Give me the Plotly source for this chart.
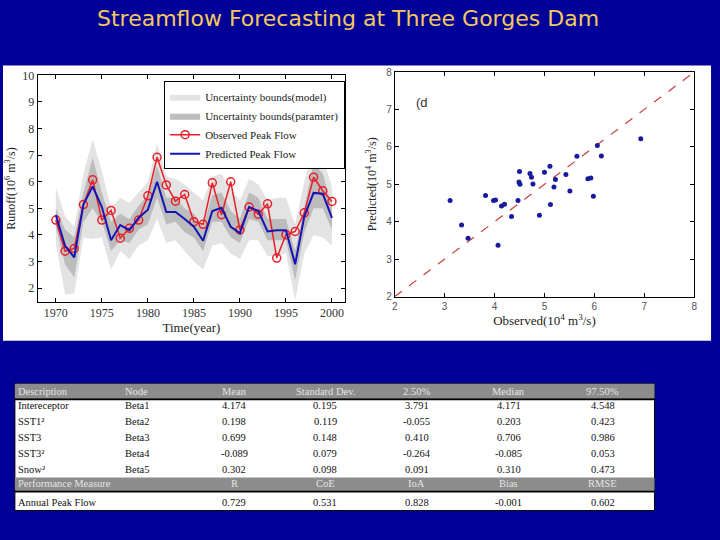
import plotly.graph_objects as go

# ---------------- data ----------------
years = list(range(1970, 2001))
observed = [4.56, 3.39, 3.49, 5.14, 6.07, 4.56, 4.92, 3.88, 4.25, 4.56,
            5.47, 6.92, 5.88, 5.27, 5.52, 4.50, 4.40, 5.96, 4.76, 6.00,
            4.19, 5.05, 4.78, 5.17, 3.13, 4.01, 4.13, 4.83, 6.17, 5.66, 5.26]
predicted = [4.75, 3.59, 3.16, 5.15, 5.82, 5.05, 3.80, 4.37, 4.18, 4.65,
             4.95, 6.00, 4.86, 4.86, 4.60, 4.31, 3.78, 4.90, 5.02, 4.31,
             4.07, 5.05, 4.90, 4.13, 4.18, 4.18, 2.90, 4.70, 5.58, 5.55, 4.64]
model_lower = [3.7, 1.75, 1.8, 3.9, 3.85, 3.9, 2.7, 3.4, 3.1, 3.6,
               3.8, 4.6, 3.7, 3.8, 3.4, 3.0, 2.7, 3.6, 3.7, 3.3,
               3.1, 3.8, 3.8, 3.2, 3.2, 3.3, 1.55, 3.3, 4.0, 3.9, 3.6]
model_upper = [5.8, 4.7, 4.3, 6.3, 7.6, 6.4, 5.0, 5.4, 5.2, 5.6,
               6.0, 7.45, 6.2, 6.1, 5.9, 5.6, 5.3, 6.2, 6.3, 5.7,
               5.3, 6.1, 5.9, 5.3, 5.4, 5.4, 4.4, 6.0, 7.35, 6.9, 5.8]
param_lower = [4.3, 2.9, 2.4, 4.5, 5.0, 4.5, 3.4, 3.8, 3.7, 4.2,
               4.4, 5.4, 4.4, 4.5, 4.1, 3.9, 3.4, 4.5, 4.5, 3.9,
               3.7, 4.6, 4.5, 3.8, 3.8, 3.8, 2.3, 4.1, 5.0, 5.0, 4.2]
param_upper = [5.0, 4.2, 3.9, 5.6, 6.9, 5.6, 4.5, 4.8, 4.6, 5.1,
               5.5, 6.6, 5.4, 5.4, 5.0, 4.8, 4.3, 5.5, 5.6, 4.9,
               4.6, 5.6, 5.4, 4.6, 4.6, 4.6, 3.4, 5.1, 6.7, 6.3, 5.1]

scatter_obs = [3.11, 3.34, 3.47, 3.82, 3.98, 4.02, 4.07, 4.14, 4.20, 4.34,
               4.47, 4.50, 4.49, 4.51, 4.71, 4.74, 4.77, 4.90, 5.00, 5.11,
               5.12, 5.19, 5.22, 5.43, 5.51, 5.65, 5.87, 5.93, 5.98, 6.06,
               6.14, 6.93]
scatter_pred = [4.57, 3.91, 3.56, 4.70, 4.57, 4.58, 3.37, 4.42, 4.47, 4.14,
                4.57, 5.34, 5.06, 5.00, 5.29, 5.19, 5.01, 4.17, 5.32, 5.48,
                4.46, 4.93, 5.13, 5.26, 4.82, 5.75, 5.15, 5.17, 4.68, 6.04,
                5.76, 6.22]
one_to_one = [2, 8]

year_ticks = [1970, 1975, 1980, 1985, 1990, 1995, 2000]

descriptions = ["Intereceptor", "SST1²", "SST3", "SST3²", "Snow²"]
nodes = ["Beta1", "Beta2", "Beta3", "Beta4", "Beta5"]
mean = ["4.174", "0.198", "0.699", "-0.089", "0.302"]
std_dev = ["0.195", "0.119", "0.148", "0.079", "0.098"]
p025 = ["3.791", "-0.055", "0.410", "-0.264", "0.091"]
median = ["4.171", "0.203", "0.706", "-0.085", "0.310"]
p975 = ["4.548", "0.423", "0.986", "0.053", "0.473"]
table_headers = ["Description", "Node", "Mean", "Standard Dev.", "2.50%", "Median", "97.50%"]
perf_title = "Performance Measure"
perf_row = "Annual Peak Flow"
perf_labels = ["R", "CoE", "IoA", "Bias", "RMSE"]
perf_values = ["0.729", "0.531", "0.828", "-0.001", "0.602"]

# ---------------- helpers ----------------
W, H = 720, 540
def px(x):
    return x / W
def py(y):
    return 1 - y / H

BG = "#000099"
LIGHT = "#e3e3e3"
DARK = "#bcbcbc"
RED = "#e8202a"
BLUE = "#1414b4"
GRAYROW = "#8c8c8c"
HEADTXT = "#e4e4e4"
SERIF = "Liberation Serif, Times New Roman, serif"
SANS = "Liberation Sans, Arial, sans-serif"

fig = go.Figure()

# uncertainty bands
fig.add_trace(go.Scatter(
    x=years + years[::-1], y=model_upper + model_lower[::-1],
    fill="toself", fillcolor=LIGHT, line=dict(width=0), mode="lines",
    name="Uncertainty bounds(model)", hoverinfo="skip", xaxis="x", yaxis="y"))
fig.add_trace(go.Scatter(
    x=years + years[::-1], y=param_upper + param_lower[::-1],
    fill="toself", fillcolor=DARK, line=dict(width=0), mode="lines",
    name="Uncertainty bounds(paramter)", hoverinfo="skip", xaxis="x", yaxis="y"))
fig.add_trace(go.Scatter(
    x=years, y=observed, mode="lines+markers", name="Observed Peak Flow",
    line=dict(color=RED, width=1.5),
    marker=dict(symbol="circle-open", size=8, color=RED, line=dict(width=1.5)),
    xaxis="x", yaxis="y"))
fig.add_trace(go.Scatter(
    x=years, y=predicted, mode="lines", name="Predicted Peak Flow",
    line=dict(color=BLUE, width=2), xaxis="x", yaxis="y"))

# scatter plot
fig.add_trace(go.Scatter(
    x=one_to_one, y=one_to_one, mode="lines", showlegend=False,
    line=dict(color="#c8403a", width=1.2, dash="dash"), xaxis="x2", yaxis="y2"))
fig.add_trace(go.Scatter(
    x=scatter_obs, y=scatter_pred, mode="markers", showlegend=False,
    marker=dict(color="#1a1a9c", size=5), xaxis="x2", yaxis="y2"))

# ---------------- table (layout geometry in pixels) ----------------
T_LEFT, T_RIGHT, T_TOP, T_BOTTOM = 12, 657, 386, 516
HEAD_BOTTOM = 401
ROW_Y0, ROW_STEP = 408.5, 16.4            # centres of the five parameter rows
PERF_TOP, PERF_BOTTOM = 482, 495.5
LAST_ROW_Y = 507.5
col_x = [13, 121, 233, 325, 417, 510, 605]
col_anchor = ["left", "left", "center", "center", "center", "center", "center"]

shapes = [
    dict(type="rect", xref="paper", yref="paper", x0=px(0), x1=px(714), y0=py(342), y1=py(60),
         fillcolor="white", line=dict(width=0), layer="below"),
    dict(type="rect", xref="paper", yref="paper", x0=px(T_LEFT), x1=px(T_RIGHT),
         y0=py(T_BOTTOM), y1=py(T_TOP), fillcolor="white", line=dict(color="black", width=1),
         layer="below"),
    dict(type="rect", xref="paper", yref="paper", x0=px(T_LEFT), x1=px(T_RIGHT),
         y0=py(HEAD_BOTTOM), y1=py(T_TOP), fillcolor=GRAYROW, line=dict(width=0), layer="below"),
    dict(type="rect", xref="paper", yref="paper", x0=px(T_LEFT), x1=px(T_RIGHT),
         y0=py(PERF_BOTTOM), y1=py(PERF_TOP), fillcolor=GRAYROW, line=dict(width=0), layer="below"),
    dict(type="line", xref="paper", yref="paper", x0=px(T_LEFT), x1=px(T_RIGHT),
         y0=py(HEAD_BOTTOM + 1), y1=py(HEAD_BOTTOM + 1), line=dict(color="black", width=2)),
    dict(type="line", xref="paper", yref="paper", x0=px(T_LEFT), x1=px(T_RIGHT),
         y0=py(PERF_BOTTOM + 1), y1=py(PERF_BOTTOM + 1), line=dict(color="black", width=2)),
]

annotations = [
    dict(text="Streamflow Forecasting at Three Gorges Dam", xref="paper", yref="paper",
         x=px(348), y=py(12), xanchor="center", yanchor="middle", showarrow=False,
         font=dict(family="DejaVu Sans, sans-serif", size=22, color="#f5c85c")),
    dict(text="(d", xref="x2", yref="y2", x=2.38, y=7.2, xanchor="left", yanchor="middle",
         showarrow=False, font=dict(family=SANS, size=13, color="#333333")),
]

def cell(text, j, y, color, size=10):
    annotations.append(dict(text=text, xref="paper", yref="paper", x=px(col_x[j]), y=py(y),
                            xanchor=col_anchor[j], yanchor="middle", showarrow=False,
                            font=dict(family=SERIF, size=size, color=color)))

for j, h in enumerate(table_headers):
    cell(h, j, (T_TOP + HEAD_BOTTOM) / 2, HEADTXT, 10.5)

param_columns = [descriptions, nodes, mean, std_dev, p025, median, p975]
for i in range(len(descriptions)):
    for j, col in enumerate(param_columns):
        cell(col[i], j, ROW_Y0 + i * ROW_STEP, "#111111", 10.5)

cell(perf_title, 0, (PERF_TOP + PERF_BOTTOM) / 2, HEADTXT, 10.5)
cell(perf_row, 0, LAST_ROW_Y, "#111111", 10.5)
for k in range(len(perf_labels)):
    cell(perf_labels[k], k + 2, (PERF_TOP + PERF_BOTTOM) / 2, HEADTXT, 10.5)
    cell(perf_values[k], k + 2, LAST_ROW_Y, "#111111", 10.5)

axis_common = dict(showline=True, linecolor="black", linewidth=1, mirror="allticks",
                   ticks="inside", ticklen=4, tickcolor="black", showgrid=False, zeroline=False)

fig.update_layout(
    width=W, height=H, autosize=False,
    margin=dict(l=0, r=0, t=0, b=0),
    paper_bgcolor=BG, plot_bgcolor="white",
    shapes=shapes, annotations=annotations,
    xaxis=dict(domain=[px(35), px(345)], range=[1968.03, 2001.43], tickvals=year_ticks,
               tickfont=dict(family=SERIF, size=12, color="#333333"),
               title=dict(text="Time(year)", font=dict(family=SERIF, size=13, color="#222222"), standoff=2),
               anchor="y", **axis_common),
    yaxis=dict(domain=[py(302), py(70)], range=[1.49, 10], dtick=1,
               tickfont=dict(family=SERIF, size=12, color="#333333"),
               title=dict(text="Runoff(10<sup>6</sup> m<sup>3</sup>/s)",
                          font=dict(family=SERIF, size=12, color="#222222"), standoff=4),
               anchor="x", **axis_common),
    xaxis2=dict(domain=[px(395), px(697)], range=[2, 8], dtick=1,
                tickfont=dict(family=SANS, size=10, color="#555555"),
                title=dict(text="Observed(10<sup>4</sup> m<sup>3</sup>/s)",
                           font=dict(family=SERIF, size=13, color="#222222"), standoff=4),
                anchor="y2", **axis_common),
    yaxis2=dict(domain=[py(296.7), py(66.7)], range=[2, 8], dtick=1,
                tickfont=dict(family=SANS, size=10, color="#555555"),
                title=dict(text="Predicted(10<sup>4</sup> m<sup>3</sup>/s)",
                           font=dict(family=SERIF, size=12, color="#222222"), standoff=6),
                anchor="x2", **axis_common),
    legend=dict(x=px(345), y=py(76), xanchor="right", yanchor="top",
                bgcolor="white", bordercolor="black", borderwidth=1,
                font=dict(family=SERIF, size=11, color="#222222"),
                tracegroupgap=0, itemwidth=30),
    showlegend=True,
)

fig.write_html("out.html", config={"displayModeBar": False},
               post_script="document.body.style.margin='0';")
